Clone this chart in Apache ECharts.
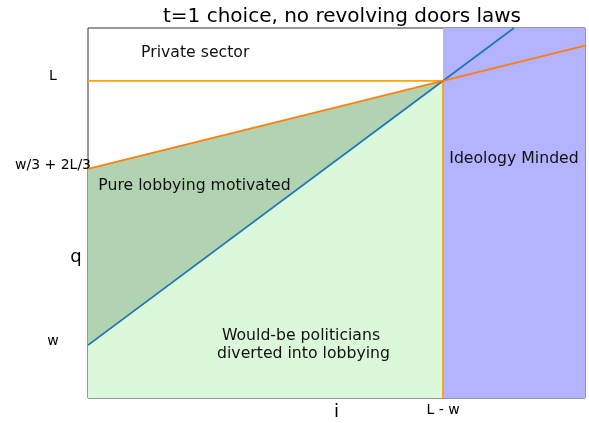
<!DOCTYPE html>
<html>
<head>
<meta charset="utf-8">
<script src="https://cdn.jsdelivr.net/npm/echarts@6/dist/echarts.min.js"></script>
<style>
  html, body { margin: 0; padding: 0; background: #fff; }
  #chart { width: 589px; height: 423px; }
</style>
</head>
<body>
<div id="chart"></div>
<script>
// w = 1, L = 6, both axes run 0..7
const blueLine = [[0, 1], [6, 7]];              // q = w + i
const orangeLine = [[0, 4.333], [7, 6.667]];    // q = w/3 + 2L/3 + i/3
const lowerEdge = [[0, 1], [5, 6]];             // blue line up to L - w
const upperEdge = [[0, 4.333], [5, 6]];         // orange line up to L - w
const ideologyTop = [[5, 7], [7, 7]];
const lLevel = [[0, 6], [5, 6]];
const lMinusW = [[5, 0], [5, 6]];

const yTickVals = [1, 2.58, 4.333, 6];
const yTickLabels = ['w', '{big|q}', 'w/3 + 2L/3', 'L'];
const xTickVals = [3.5, 5];
const xTickLabels = ['{big|i}', 'L - w'];

const notes = [
    [1.51, 6.53, 'Private sector'],
    [1.5, 4.01, 'Pure lobbying motivated'],
    [6.0, 4.52, 'Ideology Minded'],
    [3.0, 1.0, 'Would-be politicians\n diverted into lobbying']
];

let myChart = echarts.init(document.getElementById('chart'));
const font = 'DejaVu Sans';

function pick(vals, labels) {
    return function (v) {
        for (let k = 0; k < vals.length; k++) {
            if (Math.abs(vals[k] - v) < 1e-6) return labels[k];
        }
        return '';
    };
}

myChart.setOption({
    animation: false,
    textStyle: {fontFamily: font},
    title: {
        text: 't=1 choice, no revolving doors laws',
        left: 337,
        textAlign: 'center',
        top: 2,
        textStyle: {fontFamily: font, fontSize: 20, fontWeight: 'normal', color: '#000'}
    },
    grid: {
        left: 88,
        right: 4,
        top: 28,
        bottom: 25,
        show: true,
        borderColor: '#333',
        borderWidth: 1,
        backgroundColor: 'transparent'
    },
    xAxis: {
        type: 'value',
        min: 0,
        max: 7,
        axisLine: {show: false},
        axisTick: {show: false},
        splitLine: {show: false},
        axisLabel: {
            customValues: xTickVals,
            formatter: pick(xTickVals, xTickLabels),
            margin: 5,
            fontSize: 14,
            color: '#000',
            rich: {big: {fontSize: 18, color: '#000'}}
        }
    },
    yAxis: {
        type: 'value',
        min: 0,
        max: 7,
        axisLine: {show: false},
        axisTick: {show: false},
        splitLine: {show: false},
        axisLabel: {
            customValues: yTickVals,
            formatter: pick(yTickVals, yTickLabels),
            margin: 35,
            align: 'center',
            padding: [0, 0, 8, 0],
            fontSize: 14,
            color: '#000',
            rich: {big: {fontSize: 18, color: '#000', padding: [0, 0, 0, 46]}}
        }
    },
    series: [
        {
            type: 'line',
            data: upperEdge,
            symbol: 'none',
            z: 1,
            lineStyle: {width: 0},
            areaStyle: {color: '#b2d3b2', opacity: 1}
        },
        {
            type: 'line',
            data: lowerEdge,
            symbol: 'none',
            z: 1,
            lineStyle: {width: 0},
            areaStyle: {color: '#dbf8db', opacity: 1}
        },
        {
            type: 'line',
            data: ideologyTop,
            symbol: 'none',
            z: 1,
            lineStyle: {width: 0},
            areaStyle: {color: '#b3b3ff', opacity: 1}
        },
        {
            type: 'line',
            data: lLevel,
            symbol: 'none',
            z: 3,
            lineStyle: {color: '#ffa500', width: 1.8}
        },
        {
            type: 'line',
            data: lMinusW,
            symbol: 'none',
            z: 3,
            lineStyle: {color: '#ffa500', width: 1.8}
        },
        {
            type: 'line',
            data: blueLine,
            symbol: 'none',
            z: 3,
            lineStyle: {color: '#1f77b4', width: 1.8}
        },
        {
            type: 'line',
            data: orangeLine,
            symbol: 'none',
            z: 3,
            lineStyle: {color: '#ff7f0e', width: 1.8}
        },
        {
            type: 'scatter',
            data: notes,
            symbolSize: 1,
            itemStyle: {opacity: 0},
            z: 10,
            silent: true,
            label: {
                show: true,
                position: 'inside',
                formatter: p => p.value[2],
                fontFamily: font,
                fontSize: 15.7,
                lineHeight: 18,
                align: 'center',
                color: '#111',
                opacity: 1
            }
        }
    ]
});
</script>
</body>
</html>
